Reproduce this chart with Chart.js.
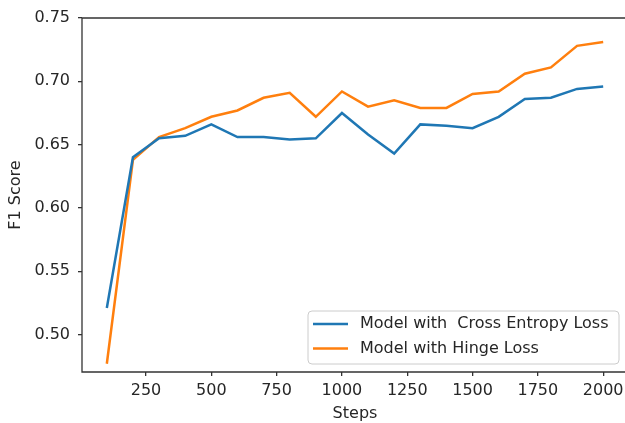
<!DOCTYPE html>
<html>
<head>
<meta charset="utf-8">
<script src="https://cdn.jsdelivr.net/npm/chart.js@4"></script>
<style>
    html, body { margin: 0; padding: 0; overflow: hidden; background: #fff; }
    #wrap { width: 625px; height: 423px; overflow: hidden; }
    canvas { display: block; }
</style>
</head>
<body>
<div id="wrap"><canvas id="f1Chart" width="632" height="423"></canvas></div>
<script>
// Data
const steps = [100, 200, 300, 400, 500, 600, 700, 800, 900, 1000,
    1100, 1200, 1300, 1400, 1500, 1600, 1700, 1800, 1900, 2000];
const crossEntropy = [0.521, 0.640, 0.655, 0.657, 0.666, 0.656, 0.656, 0.654, 0.655, 0.675,
    0.658, 0.643, 0.666, 0.665, 0.663, 0.672, 0.686, 0.687, 0.694, 0.696];
const hinge = [0.477, 0.638, 0.656, 0.663, 0.672, 0.677, 0.687, 0.691, 0.672, 0.692,
    0.680, 0.685, 0.679, 0.679, 0.690, 0.692, 0.706, 0.711, 0.728, 0.731];
const xTicks = [250, 500, 750, 1000, 1250, 1500, 1750, 2000];
const yTicks = [0.50, 0.55, 0.60, 0.65, 0.70, 0.75];

const seriesLabels = ['Model with  Cross Entropy Loss', 'Model with Hinge Loss'];
const seriesColors = ['#1f77b4', '#ff7f0e'];

const FONT = 'DejaVu Sans';
const TEXT = '#262626';
const SPINE = '#333333';

// Spines: top, left and bottom (the right one falls outside the picture)
const framePlugin = {
    id: 'frame',
    afterDatasetsDraw(chart) {
        const { ctx, chartArea: a } = chart;
        ctx.save();
        ctx.strokeStyle = SPINE;
        ctx.lineWidth = 1.3;
        ctx.beginPath();
        ctx.moveTo(chart.width, a.top);
        ctx.lineTo(a.left, a.top);
        ctx.lineTo(a.left, a.bottom);
        ctx.lineTo(chart.width, a.bottom);
        ctx.stroke();
        ctx.restore();
    }
};

// Legend box in the lower right corner of the plot
const legendPlugin = {
    id: 'boxLegend',
    afterDraw(chart) {
        const { ctx, chartArea: a } = chart;
        const w = 311, h = 53;
        const x = a.right - 9 - w;
        const y = a.bottom - 8 - h;
        ctx.save();
        ctx.beginPath();
        ctx.roundRect(x, y, w, h, 4);
        ctx.fillStyle = 'rgba(255,255,255,0.8)';
        ctx.fill();
        ctx.strokeStyle = '#cccccc';
        ctx.lineWidth = 1;
        ctx.stroke();
        ctx.font = '16px "' + FONT + '"';
        ctx.textBaseline = 'middle';
        chart.data.datasets.forEach((ds, i) => {
            const cy = y + 13 + i * 24.5;
            ctx.strokeStyle = ds.borderColor;
            ctx.lineWidth = 2.5;
            ctx.beginPath();
            ctx.moveTo(x + 5, cy);
            ctx.lineTo(x + 40, cy);
            ctx.stroke();
            ctx.fillStyle = TEXT;
            ctx.fillText(ds.label, x + 52, cy);
        });
        ctx.restore();
    }
};

const ctx = document.getElementById('f1Chart').getContext('2d');
new Chart(ctx, {
    type: 'line',
    data: {
        datasets: [
            {
                label: seriesLabels[0],
                data: steps.map((s, i) => ({ x: s, y: crossEntropy[i] })),
                borderColor: seriesColors[0],
                backgroundColor: seriesColors[0],
                borderWidth: 2.5,
                pointRadius: 0,
                tension: 0
            },
            {
                label: seriesLabels[1],
                data: steps.map((s, i) => ({ x: s, y: hinge[i] })),
                borderColor: seriesColors[1],
                backgroundColor: seriesColors[1],
                borderWidth: 2.5,
                pointRadius: 0,
                tension: 0
            }
        ]
    },
    options: {
        responsive: false,
        animation: false,
        devicePixelRatio: 1,
        layout: { padding: { left: 0, top: 18, right: 4, bottom: 0 } },
        plugins: {
            legend: { display: false },
            tooltip: { enabled: false }
        },
        scales: {
            x: {
                type: 'linear',
                min: 5,
                max: 2095,
                afterBuildTicks: (axis) => { axis.ticks = xTicks.map(v => ({ value: v })); },
                afterFit: (axis) => { axis.height = 51; },
                grid: { drawOnChartArea: false, drawTicks: true, tickLength: 4, color: SPINE, lineWidth: 1.3 },
                border: { display: false },
                ticks: {
                    autoSkip: false,
                    maxRotation: 0,
                    padding: 5,
                    color: TEXT,
                    font: { family: FONT, size: 16 },
                    callback: (v) => String(v)
                },
                title: {
                    display: true,
                    text: 'Steps',
                    color: TEXT,
                    font: { family: FONT, size: 16 },
                    padding: { top: 0, bottom: 0 }
                }
            },
            y: {
                min: 0.4705,
                max: 0.75,
                afterBuildTicks: (axis) => { axis.ticks = yTicks.map(v => ({ value: v })); },
                afterFit: (axis) => { axis.width = 82; },
                grid: { drawOnChartArea: false, drawTicks: true, tickLength: 4, color: SPINE, lineWidth: 1.3 },
                border: { display: false },
                ticks: {
                    padding: 8,
                    color: TEXT,
                    font: { family: FONT, size: 16 },
                    callback: (v) => v.toFixed(2)
                },
                title: {
                    display: true,
                    text: 'F1 Score',
                    color: TEXT,
                    font: { family: FONT, size: 16 },
                    padding: { top: 6, bottom: 0 }
                }
            }
        }
    },
    plugins: [framePlugin, legendPlugin]
});
</script>
</body>
</html>
